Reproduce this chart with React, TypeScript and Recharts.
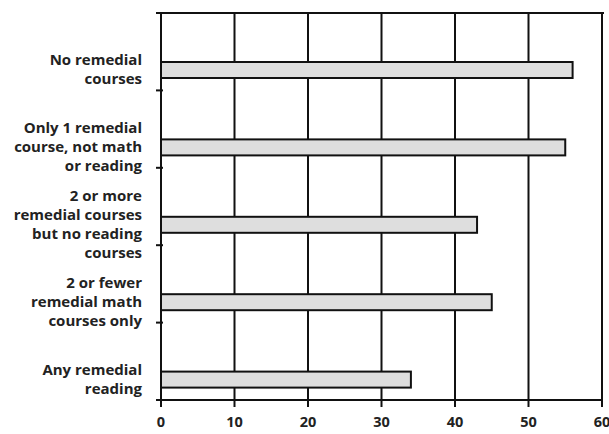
import React from "react";
import { BarChart, Bar, XAxis, YAxis, CartesianGrid } from "recharts";

const WIDTH = 609;
const HEIGHT = 434;
const MARGIN = { top: 13, right: 7, bottom: 0, left: 0 };
const X_AXIS_HEIGHT = 34;
const Y_AXIS_WIDTH = 161;
const FONT = "'Open Sans', Lato, sans-serif";

// category labels, already broken into lines as printed
const LABEL_LINES: string[][] = [
    ["No remedial", "courses"],
    ["Only 1 remedial", "course, not math", "or reading"],
    ["2 or more", "remedial courses", "but no reading", "courses"],
    ["2 or fewer", "remedial math", "courses only"],
    ["Any remedial", "reading"],
];
const CATEGORIES = LABEL_LINES.map((l) => l.join(" "));
const PERCENTS = [56, 55, 43, 45, 34];
const X_TICKS = [0, 10, 20, 30, 40, 50, 60];

const data = CATEGORIES.map((name, i) => ({ name, value: PERCENTS[i] }));

const PLOT_W = WIDTH - MARGIN.left - MARGIN.right - Y_AXIS_WIDTH;
const PLOT_H = HEIGHT - MARGIN.top - MARGIN.bottom - X_AXIS_HEIGHT;
const BAND = PLOT_H / CATEGORIES.length;
const BAR_SHIFT = 18; // bars sit in the lower half of each band
const LINE_H = 19;

function CategoryTick(props: any) {
    const { x, y, payload, index } = props;
    const lines = LABEL_LINES[index] ?? [payload.value];
    const axisX = x + 10;
    const cy = y + BAR_SHIFT;
    const startY = cy - ((lines.length - 1) * LINE_H) / 2;
    return (
        <g>
            {index === 0 && (
                // top frame line, with its little tick past the axis
                <line x1={axisX - 7} x2={axisX + PLOT_W} y1={y - BAND / 2} y2={y - BAND / 2} stroke="#111" strokeWidth={2} />
            )}
            <line x1={axisX - 7} x2={axisX} y1={y + BAND / 2} y2={y + BAND / 2} stroke="#111" strokeWidth={2} />
            <text textAnchor="end" fontFamily={FONT} fontWeight={700} fontSize={15} fill="#222">
                {lines.map((ln, i) => (
                    <tspan key={i} x={x - 11} y={startY + i * LINE_H} dy="0.35em">
                        {ln}
                    </tspan>
                ))}
            </text>
        </g>
    );
}

function ShiftedBar(props: any) {
    const { x, y, width, height } = props;
    return (
        <rect x={x} y={y + BAR_SHIFT} width={width} height={height} fill="#dedede" stroke="#111" strokeWidth={2} />
    );
}

export default function App() {
    return (
        <div style={{ position: "absolute", left: 0, top: 0, background: "#fff" }}>
            <BarChart
                width={WIDTH}
                height={HEIGHT}
                data={data}
                layout="vertical"
                margin={MARGIN}
                barSize={16}
            >
                <CartesianGrid horizontal={false} stroke="#111" strokeWidth={2} strokeOpacity={1} />
                <XAxis
                    type="number"
                    domain={[0, 60]}
                    ticks={X_TICKS}
                    height={X_AXIS_HEIGHT}
                    interval={0}
                    tickSize={7}
                    tickMargin={10}
                    axisLine={{ stroke: "#111", strokeWidth: 2 }}
                    tickLine={{ stroke: "#111", strokeWidth: 2 }}
                    tick={{ fill: "#222", fontFamily: FONT, fontWeight: 700, fontSize: 14.5 }}
                />
                <YAxis
                    type="category"
                    dataKey="name"
                    width={Y_AXIS_WIDTH}
                    interval={0}
                    tickLine={false}
                    axisLine={{ stroke: "#111", strokeWidth: 2 }}
                    tick={<CategoryTick />}
                />
                <Bar dataKey="value" shape={<ShiftedBar />} isAnimationActive={false} />
            </BarChart>
        </div>
    );
}
